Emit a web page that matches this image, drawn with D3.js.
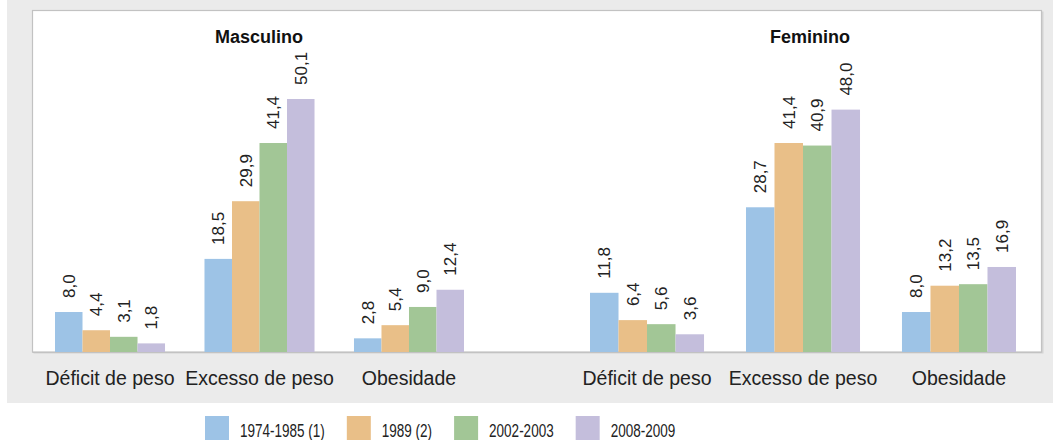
<!DOCTYPE html>
<html>
<head>
<meta charset="utf-8">
<script src="https://cdn.jsdelivr.net/npm/d3@7"></script>
<style>
  body{margin:0;background:#fff;}
  text{font-family:"Liberation Sans",Arial,sans-serif;fill:#222;}
</style>
</head>
<body>
<svg id="chart"></svg>
<script>
var categories = ["Déficit de peso","Excesso de peso","Obesidade"];
var series = ["1974-1985 (1)","1989 (2)","2002-2003","2008-2009"];
var colors = ["#9dc3e6","#e9bf88","#a2c696","#c4bedc"];
var masculino = [[8.0,4.4,3.1,1.8],[18.5,29.9,41.4,50.1],[2.8,5.4,9.0,12.4]];
var feminino = [[11.8,6.4,5.6,3.6],[28.7,41.4,40.9,48.0],[8.0,13.2,13.5,16.9]];
var panelTitles = ["Masculino","Feminino"];

function fmt(v){
  return v.toFixed(1).replace(".",",");
}

function makeChart(){
  var width=1053, height=440;
  var base=352.5;
  var svg=d3.select("#chart").attr("width",width).attr("height",height);

  // gray backdrop and white plot box
  svg.append("rect").attr("x",7).attr("y",0).attr("width",width-7).attr("height",403).attr("fill","#ebebeb");
  svg.append("rect").attr("x",33.5).attr("y",11.5).attr("width",1010).attr("height",342).attr("fill","#d4d4d4");
  svg.append("rect").attr("x",32.5).attr("y",10.5).attr("width",1009).attr("height",341.5)
     .attr("fill","#fff").attr("stroke","#c2c2c2").attr("stroke-width",1.2);

  var yScale=d3.scaleLinear().domain([0,60]).range([base,base-60*5.06]);

  var panels=[
    {data:masculino,range:[55,464],pad:0.264,titleX:259},
    {data:feminino,range:[590,1016],pad:0.269,titleX:810}
  ];

  panels.forEach(function(p,pi){
    var x0=d3.scaleBand().domain(categories).range(p.range).paddingInner(p.pad).paddingOuter(0);
    var x1=d3.scaleBand().domain(series).range([0,x0.bandwidth()]);
    var g=svg.append("g");

    g.append("text").attr("x",p.titleX).attr("y",43).attr("text-anchor","middle")
     .style("font-weight","bold").style("font-size","18px").style("fill","#111")
     .text(panelTitles[pi]);

    var groups=g.selectAll("g.grp").data(p.data).enter().append("g")
      .attr("transform",function(d,i){return "translate("+x0(categories[i])+",0)";});

    groups.selectAll("rect").data(function(d){return d;}).enter().append("rect")
      .attr("x",function(d,i){return x1(series[i]);})
      .attr("y",function(d){return yScale(d);})
      .attr("width",x1.bandwidth())
      .attr("height",function(d){return base-yScale(d);})
      .attr("fill",function(d,i){return colors[i];});

    groups.selectAll("text.val").data(function(d){return d;}).enter().append("text")
      .attr("class","val")
      .attr("transform",function(d,i){
        var cx=x1(series[i])+x1.bandwidth()/2+6;
        return "translate("+cx+","+(yScale(d)-14)+") rotate(-90)";
      })
      .style("font-size","17px")
      .text(function(d){return fmt(d);});

    var xAxis=d3.axisBottom(x0).tickSize(0).tickPadding(19);
    var ax=g.append("g").attr("transform","translate(0,"+base+")").call(xAxis);
    ax.select(".domain").remove();
    ax.selectAll("text").style("font-size","19.5px").style("font-family","'Liberation Sans',Arial,sans-serif").attr("fill","#222");
  });

  // baseline
  svg.append("line").attr("x1",32.5).attr("x2",1041.5).attr("y1",base).attr("y2",base)
     .attr("stroke","#c2c2c2").attr("stroke-width",1.2);

  // legend (condensed text)
  var leg=svg.append("g");
  var lx=205;
  series.forEach(function(s,i){
    leg.append("rect").attr("x",lx).attr("y",416).attr("width",24).attr("height",24).attr("fill",colors[i]);
    var t=leg.append("text").attr("x",lx+35).attr("y",437)
      .style("font-size","18px").text(s);
    var w=t.node().getComputedTextLength()*0.75;
    t.attr("textLength",w).attr("lengthAdjust","spacingAndGlyphs");
    lx+=35+w+22;
  });
}

makeChart();
</script>
</body>
</html>
